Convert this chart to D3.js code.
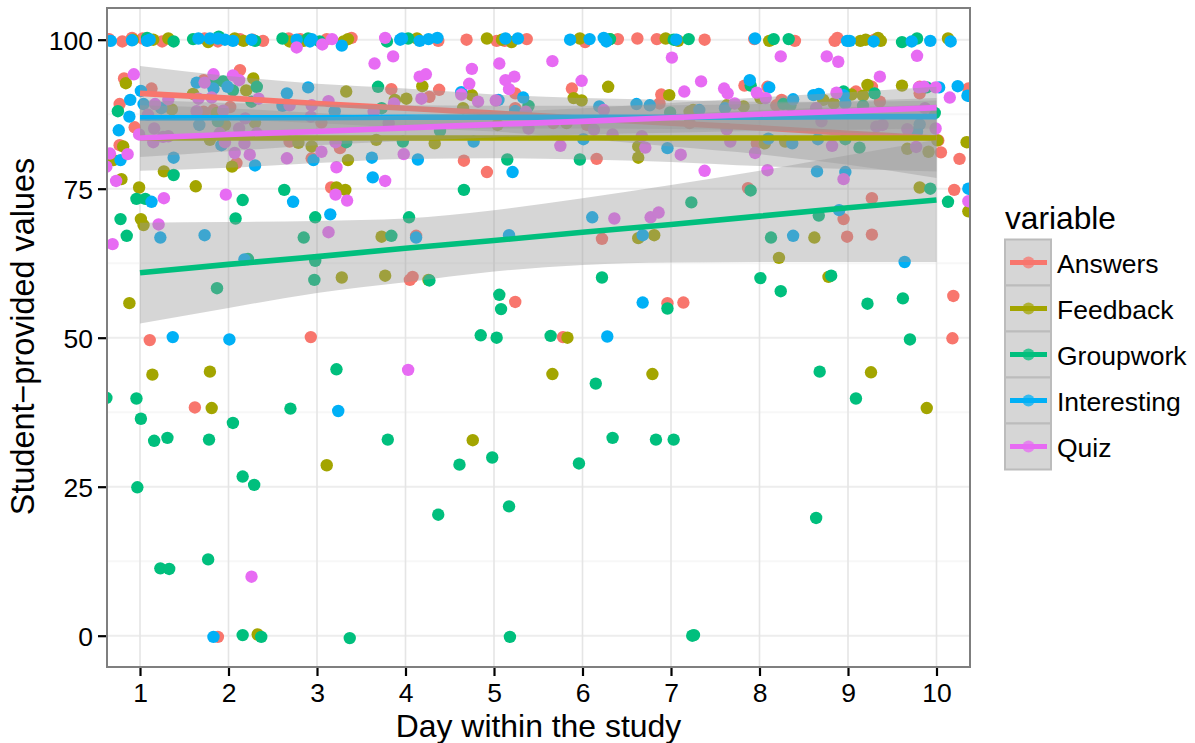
<!DOCTYPE html>
<html><head><meta charset="utf-8">
<script src="https://cdn.jsdelivr.net/npm/d3@7"></script>
<style>html,body{margin:0;background:#fff}svg{display:block}text{font-family:"Liberation Sans",Arial,sans-serif;fill:#000}</style>
</head><body><div id="chart"></div>
<script>
const seriesNames = ["Answers","Feedback","Groupwork","Interesting","Quiz"];
const seriesColors = ["#F8766D","#A3A500","#00BF7D","#00B0F6","#E76BF3"];
const xTicks = [1,2,3,4,5,6,7,8,9,10];
const yTicks = [0,25,50,75,100];
const yMinor = [12.5,37.5,62.5,87.5];

const answersPts = [[.65,100.1],[.80,99.7],[.91,100.3],[1.03,100.2],[1.25,99.7],[1.73,100.2],[1.88,99.7],[2.13,100.1],[2.27,100],[2.39,99.8],[2.68,100.2],[2.81,100.1],[3.11,100.1],[3.39,100.3],[4.37,99.8],[4.69,100],[5.03,99.8],[5.12,99.8],[5.37,100.1],[6.03,99.6],[6.40,100.1],[6.62,100.2],[6.84,100.1],[7.38,100],[7.94,100.1],[8.40,99.8],[8.85,99.8],[8.88,100.3],[9.3,100],
[.82,93.5],[.77,89.2],[.94,85.3],[.77,82.3],[1.13,91.8],[2.13,94.9],[1.72,93.2],[2.02,88.7],[1.83,88.2],[1.72,87.9],[2.69,82.9],[2.94,80.1],[3.26,81.8],[3.16,75.2],[2.09,79.3],[3.84,91.7],[3.05,86.1],[4.27,90.4],[4.38,91.6],[4.66,79.7],[4.92,77.8],[5.24,91],[5.24,88.5],[5.88,91.8],[6.16,80],[5.67,86],[6.05,85.7],[6.87,89.3],[6.89,90.8],[7.21,86],[7.83,92.3],[8.09,92.1],[8.25,89.9],[8.19,89.0],[7.97,82.6],[9.09,91.3],[9.27,92.1],[9.81,92.1],[9.81,91],[10.02,83.1],[10.05,81.1],[10.26,80],[10.2,74.8],[9.27,73.4],[8.95,69.9],[7.87,75.1],[9.36,89.6],[10.36,91.8],[7.63,85],
[1.11,49.6],[2.93,50.1],[1.62,38.3],[4.12,67.1],[4.05,59.7],[4.08,60.2],[5.24,56],[6.22,66.6],[6.96,55.8],[7.14,55.9],[5.78,50.1],[8.99,66.95],[9.27,67.3],[10.19,57],[10.18,49.9],[1.88,-.2]];

const feedbackPts = [[.92,100],[1.15,100],[1.32,100.2],[1.77,99.6],[2.07,100.2],[2.17,99.8],[2.69,99.7],[2.85,99.8],[3.30,99.7],[3.35,100.1],[4.13,100.2],[4.92,100.2],[5.09,100],[5.2,99.6],[5.97,100.2],[6.31,100.1],[6.94,100.2],[7.08,99.8],[8.11,99.8],[9.14,99.8],[9.2,100],[9.34,100.3],[9.37,99.8],[10.13,100.2],
[.84,92.7],[.81,82.1],[.70,79.8],[.79,76.6],[.99,75.2],[1.27,77.9],[1.01,69.9],[1.63,75.4],[1.36,88.3],[1.60,90.9],[2.28,93.5],[2.2,91.5],[2.04,78.7],[2.30,86.1],[1.96,85.7],[1.79,83.2],[2.79,82.7],[2.94,82.1],[3.35,79.8],[3.22,75.2],[3.32,74.8],[3.33,91.3],[3.67,83.2],[1.87,87.7],[4.19,92.2],[4.01,90.1],[4.33,82.6],[3.88,89.9],[4.75,90.7],[4.65,88.5],[6.29,92.1],[5.9,90.2],[5.99,89.8],[5.04,85.7],[6.63,82.1],[6.63,80.2],[6.98,90.7],[7.21,87.9],[5.82,86],[7.25,88.2],[7.63,89.0],[7.82,88.8],[8.01,90.2],[8.72,89.9],[8.84,89.3],[9.04,90.8],[9.17,90.6],[9.22,92.4],[9.61,92.3],[8.06,82.6],[8.29,82.9],[9.67,81.7],[9.91,81.2],[9.81,75.2],[10.34,82.8],[10.01,83.1],[10.36,71.2],
[1.04,68.9],[.88,55.8],[3.28,60.1],[3.77,60.4],[3.73,66.95],[1.14,43.8],[1.79,44.3],[1.81,38.2],[3.11,28.6],[4.26,59.7],[5.83,50],[5.66,43.9],[6.79,43.9],[4.76,32.8],[6.63,66.7],[6.81,67.2],[8.62,66.8],[8.22,63.4],[8.78,60.2],[9.26,44.2],[9.89,38.2],[2.33,.2]];

const groupworkPts = [[1.08,100.3],[1.38,99.7],[1.6,100.1],[1.89,100.5],[2.30,99.8],[2.61,100.2],[2.90,100.2],[3.03,99.7],[3.79,99.7],[4.03,100.2],[6.31,100.1],[7.03,100],[7.2,100.1],[8.16,100.1],[8.33,100.1],[9.61,99.6],[9.78,100.2],
[.75,88],[.96,73.3],[1.06,73.3],[.78,69.9],[1.38,77.3],[1.85,93],[1.94,93],[2.05,91.5],[1.88,86.3],[2.32,92.1],[2.26,89.6],[2.63,74.8],[2.16,73.1],[2.08,70],[2.98,70.2],[3.69,92.1],[3.73,88.5],[3.33,82.8],[3.97,82.9],[4.39,84.7],[5.39,88.9],[5.15,79.9],[4.66,74.8],[5.97,79.9],[6.99,87.8],[4.04,70.2],[7.9,92.3],[8.27,89.2],[8.35,89.0],[8.95,91.3],[9.89,92],[9.3,91],[9.17,88.9],[8.97,83.3],[9.13,81.9],[9.98,87.7],[9.93,75],[10.13,72.8],[7.9,74.7],[7.23,72.7],[8.67,70.5],
[.85,67.1],[1.87,58.3],[2.85,66.8],[2.98,62.9],[2.97,59.7],[2.22,63.2],[3.84,67.1],[3.22,44.7],[.62,39.9],[.96,39.8],[1.01,36.4],[1.16,32.7],[1.31,33.2],[1.78,32.9],[2.05,35.7],[2.7,38.1],[3.8,32.9],[4.27,59.6],[5.06,57.2],[5.08,54.8],[4.85,50.4],[5.03,50],[5.64,50.3],[6.15,42.3],[6.22,60.1],[6.96,54.9],[6.34,33.2],[6.83,32.9],[7.03,32.9],[8.13,66.8],[8.01,60],[8.24,57.8],[8.81,60.4],[9.22,55.7],[9.62,56.6],[9.7,49.7],[8.68,44.3],[9.09,39.8],
[.97,24.9],[2.16,26.7],[2.29,25.3],[1.77,12.8],[1.23,11.3],[1.33,11.2],[4.61,28.7],[4.98,29.9],[4.37,20.3],[5.17,21.7],[2.16,.1],[2.37,-.2],[3.37,-.4],[5.18,-.2],[8.64,19.75],[7.24,0],[7.26,.1],[5.96,28.9]];

const interestingPts = [[.67,99.8],[.91,99.9],[1.08,99.8],[1.11,100],[1.66,100.2],[1.79,100.2],[1.88,100.2],[1.96,100],[2.05,99.8],[2.26,100],[2.77,100],[2.92,99.7],[2.94,100.1],[3.28,99],[3.94,100],[3.96,100.2],[4.16,99.8],[4.26,100.1],[4.36,100.3],[5.13,100.2],[5.27,100.2],[5.86,100],[6.08,100.1],[6.24,100.3],[6.27,99.7],[7.06,100],[7.95,100.2],[8.99,99.8],[9.02,99.8],[9.29,99.7],[9.72,99.7],[9.93,99.8],[10.16,99.7],
[1.01,91.4],[.89,89.9],[.88,87.1],[.76,84.8],[.78,79.8],[1.04,89.2],[1.24,88.5],[1.38,80.2],[1.13,72.8],[1.64,92.8],[1.83,91.8],[1.99,92.1],[1.67,85.7],[1.92,82.3],[2.30,78.9],[2.66,91],[2.90,92],[2.61,88.9],[3.2,88],[2.73,72.8],[2.96,79.8],[3.62,80.2],[3.63,76.9],[3.15,70.7],[4.63,91.2],[5.05,89.9],[5.24,88.0],[5.33,90.3],[4.77,82.9],[4.14,79.9],[5.21,77.8],[6.01,83.3],[6.19,88.8],[6.61,89.2],[6.76,89],[6.96,81.8],[6.11,70.2],[7.32,88.2],[7.61,88.5],[7.89,93.2],[8.11,92],[8.38,90],[8.61,90.7],[8.67,90.9],[8.97,89.3],[8.95,90.7],[9.81,85.8],[9.78,84.6],[8.1,83.4],[8.37,82.6],[8.66,83.3],[8.65,77.9],[8.97,77.8],[8.9,71.4],[10.03,92],[10.24,92.2],[10.35,90.6],[10.36,75],
[1.23,66.8],[1.73,67.2],[2.18,63.15],[1.37,50.1],[2.01,49.7],[3.24,37.7],[4.12,66.8],[5.17,67.2],[6.68,55.9],[6.28,50.2],[6.68,67.2],[8.38,67.1],[9.64,62.7],[1.83,-.2]];

const quizPts = [[2.77,98.7],[3.06,99.2],[3.17,100.1],[3.77,100.3],[3.65,96],[3.86,97.2],[.93,94.2],[.66,80.9],[.86,80.8],[.62,78.7],[.73,76.3],[.99,84.1],[1.17,89.2],[1.32,90],[1.09,87.4],[1.16,85.1],[1.15,82.8],[1.26,83.7],[1.32,83.8],[1.27,73.4],[1.21,69],[1.73,92.8],[1.83,94.2],[2.05,94],[2.12,93.2],[1.66,90.1],[1.81,90.3],[1.64,88],[1.94,88.1],[1.9,84.3],[1.96,82.8],[2.12,85.1],[2.19,86.8],[2.18,82.6],[2.07,81],[2.24,80.7],[2.34,90.1],[2.32,84.3],[1.97,74],[2.66,80.1],[2.69,89],[2.94,89],[2.93,87.1],[3.05,81.2],[3.21,82.8],[3.13,89.7],[3.22,78.6],[3.34,73],[3.21,74],[3.77,76.3],[3.64,87.9],[3.81,86],[3.87,89.3],
[4.16,93.8],[4.23,94.2],[4.18,90.1],[3.98,80.8],[4.75,95.1],[4.72,92.6],[4.63,90.8],[4.82,89.6],[5.06,96],[5.13,93.2],[5.23,93.8],[5.17,91.7],[5.02,89.8],[5.36,87.9],[5.39,85.1],[5.66,96.4],[5.99,93.1],[5.75,82.2],[6.24,88.2],[6.13,84.9],[6.34,84.1],[6.67,83.8],[6.71,81.9],[7.01,97],[7.15,91.3],[7.11,80.7],[6.36,70],[6.77,70.2],[6.86,71],[7.34,93],[7.6,91.8],[7.64,91],[7.72,89.3],[7.67,82.9],[7.38,78],[7.97,91.1],[8.07,90.2],[7.95,81],[8.09,78.1],[7.63,85],[8.64,88.5],[8.87,91.1],[8.7,86.3],[8.82,82.2],[8.95,76.6],[9.32,85.4],[9.39,85.7],[9.67,85],[9.77,82],[9.8,92],[9.86,92.1],[9.99,92],[9.87,88.5],[9.99,85.1],[10.15,90.3],[10.36,72.9],[8.24,97.2],[8.76,97.2],[8.89,96.3],[9.78,97.3],[9.36,93.8],
[.69,65.7],[3.13,67.7],[4.03,44.6],[2.26,9.9]];

// Fitted lines and confidence bands read at each day 1..10
const fitDays = [1,2,3,4,5,6,7,8,9,10];
const answersFit  = [91,90.2,89.3,88.5,87.7,86.8,86,85.2,84.3,83.5];
const answersLow  = [86.4,86.5,86,85.2,84.6,83.4,82.1,80.8,79,76.8];
const answersHigh = [95.6,93.9,92.6,91.8,90.8,90.2,89.9,89.6,89.6,89.8];
const feedbackFit  = [83.5,83.5,83.5,83.5,83.5,83.5,83.5,83.5,83.5,83.5];
const feedbackLow  = [78,78.5,79.3,80,80.1,79.9,79.5,78.8,78.3,77.9];
const feedbackHigh = [89,88.5,87.7,87,86.9,87.1,87.5,88.2,88.7,89.1];
const groupworkFit  = [60.9,62.3,63.6,65,66.3,67.7,69,70.4,71.8,73.1];
const groupworkLow  = [52.4,55,57.5,59.3,61.1,62.2,62.6,62.7,62.7,62.7];
const groupworkHigh = [69.3,69.4,69.6,70,71.4,73.4,75.6,78,80.6,83.2];
const interestingFit  = [86.9,86.9,86.9,87,87,87,87,87,87.1,87.1];
const interestingLow  = [83.9,84.4,84.8,85,85.1,85.1,85,84.8,84.4,84];
const interestingHigh = [89.9,89.4,89.1,89,88.9,88.9,89,89.2,89.7,90.2];
const quizFit  = [83.5,84.1,84.6,85.2,85.8,86.3,86.9,87.5,88,88.6];
const quizLow  = [80.3,81.3,82.3,83,83.6,84.1,84.4,84.7,84.9,85.1];
const quizHigh = [86.7,86.9,87,87.3,87.9,88.5,89.4,90.3,91.2,92.1];

const pointSets = [answersPts,feedbackPts,groupworkPts,interestingPts,quizPts];
const fits = [answersFit,feedbackFit,groupworkFit,interestingFit,quizFit];
const lows = [answersLow,feedbackLow,groupworkLow,interestingLow,quizLow];
const highs = [answersHigh,feedbackHigh,groupworkHigh,interestingHigh,quizHigh];

const W=1195,H=743;
const P={l:107,r:970,t:8,b:667};
const x=d3.scaleLinear().domain([1,10]).range([140,936.5]);
const y=d3.scaleLinear().domain([0,100]).range([635.7,39.7]);
const svg=d3.select("#chart").append("svg").attr("width",W).attr("height",H);
svg.append("defs").append("clipPath").attr("id","panel").append("rect")
  .attr("x",P.l).attr("y",P.t).attr("width",P.r-P.l).attr("height",P.b-P.t);
const g=svg.append("g").attr("clip-path","url(#panel)");

// grid
g.selectAll(".minor").data(yMinor).join("line").attr("x1",P.l).attr("x2",P.r)
  .attr("y1",d=>y(d)).attr("y2",d=>y(d)).attr("stroke","#f7f7f7").attr("stroke-width",2);
g.selectAll(".majY").data(yTicks).join("line").attr("x1",P.l).attr("x2",P.r)
  .attr("y1",d=>y(d)).attr("y2",d=>y(d)).attr("stroke","#ededed").attr("stroke-width",2);
g.selectAll(".majX").data(xTicks).join("line").attr("y1",P.t).attr("y2",P.b)
  .attr("x1",d=>x(d)).attr("x2",d=>x(d)).attr("stroke","#e5e5e5").attr("stroke-width",1.6);

// points
pointSets.forEach((pts,i)=>{
  g.append("g").selectAll("circle").data(pts).join("circle")
    .attr("cx",d=>x(d[0])).attr("cy",d=>y(d[1])).attr("r",6.2).attr("fill",seriesColors[i]);
});

// bands and lines
const area=d3.area().curve(d3.curveMonotoneX);
const line=d3.line();
seriesNames.forEach((n,i)=>{
  const rows=fitDays.map((d,k)=>({d,f:fits[i][k],lo:lows[i][k],hi:highs[i][k]}));
  g.append("path").attr("fill","#999").attr("fill-opacity",.4)
    .attr("d",area.x(r=>x(r.d)).y0(r=>y(r.lo)).y1(r=>y(r.hi))(rows));
  g.append("path").attr("fill","none").attr("stroke",seriesColors[i]).attr("stroke-width",5.6)
    .attr("d",line.x(r=>x(r.d)).y(r=>y(r.f))(rows));
});

// border
svg.append("rect").attr("x",P.l).attr("y",P.t).attr("width",P.r-P.l).attr("height",P.b-P.t)
  .attr("fill","none").attr("stroke","#7f7f7f").attr("stroke-width",2);

// axes
const ax=svg.append("g").attr("transform",`translate(0,${P.b+1})`)
  .call(d3.axisBottom(x).tickValues(xTicks).tickSize(8).tickPadding(7));
const ay=svg.append("g").attr("transform",`translate(${P.l-1},0)`)
  .call(d3.axisLeft(y).tickValues(yTicks).tickSize(8).tickPadding(5));
[ax,ay].forEach(a=>{
  a.select(".domain").remove();
  a.selectAll("line").attr("stroke","#000").attr("stroke-width",2.2);
  a.selectAll("text").attr("font-size",26.5).attr("font-family",'"Liberation Sans",Arial,sans-serif').attr("fill","#000");
});
ay.selectAll("text").attr("dy","0.37em");

// titles
svg.append("text").attr("x",538.5).attr("y",737).attr("text-anchor","middle").attr("font-size",31.9).text("Day within the study");
svg.append("text").attr("transform","translate(34,336.5) rotate(-90)").attr("text-anchor","middle").attr("font-size",32.4).text("Student\u2212provided values");

// legend
svg.append("text").attr("x",1005).attr("y",229).attr("font-size",31.7).text("variable");
const keyH=46,keyTop=239.5;
const lg=svg.append("g");
seriesNames.forEach((n,i)=>{
  const k=lg.append("g").attr("transform",`translate(1005,${keyTop+i*keyH})`);
  k.append("rect").attr("width",46).attr("height",keyH).attr("fill","#d6d6d6").attr("stroke","#bcbcbc").attr("stroke-width",2);
  k.append("line").attr("x1",5).attr("x2",42).attr("y1",23).attr("y2",23).attr("stroke",seriesColors[i]).attr("stroke-width",5);
  k.append("circle").attr("cx",23.5).attr("cy",23).attr("r",6).attr("fill",seriesColors[i]).attr("fill-opacity",.75);
  lg.append("text").attr("x",1057).attr("y",keyTop+i*keyH+23+10).attr("font-size",26.5).text(n);
});
</script></body></html>
